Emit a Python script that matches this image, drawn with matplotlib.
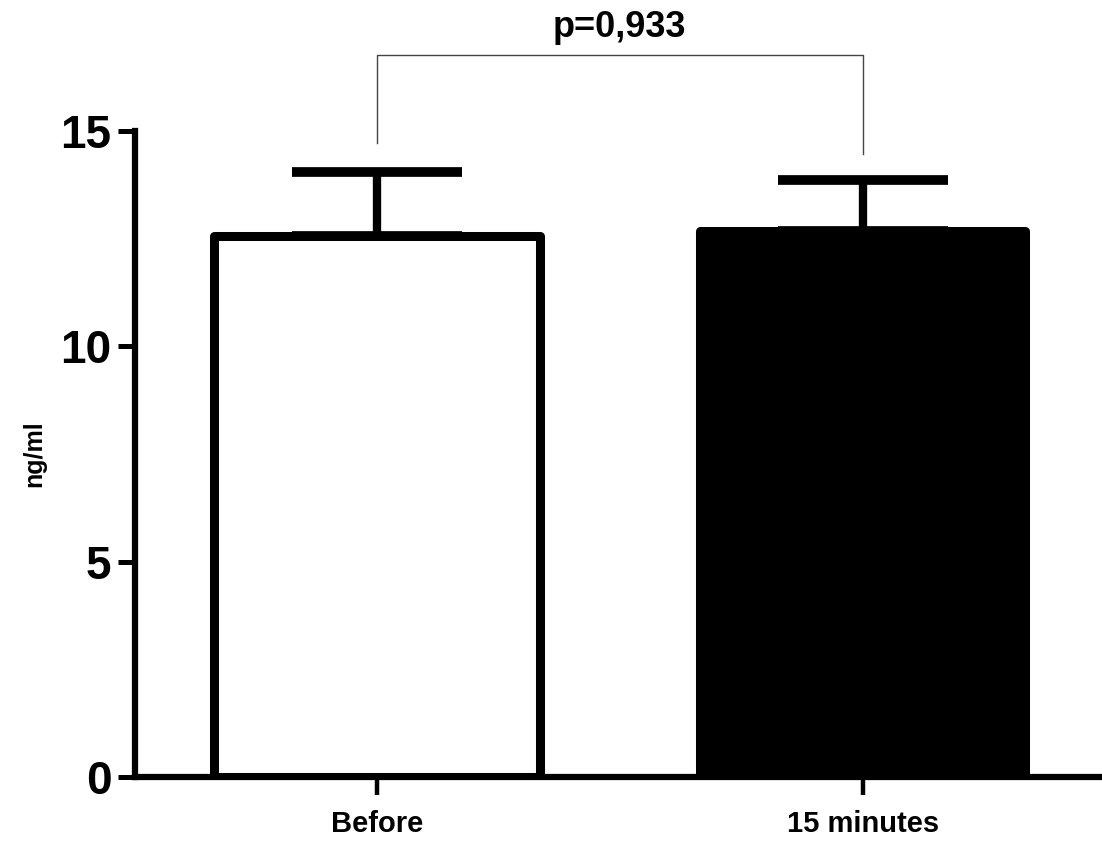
import numpy as np
import matplotlib
matplotlib.use("Agg")
import matplotlib.pyplot as plt

plt.rcParams['font.family'] = ['Liberation Sans', 'DejaVu Sans']
plt.rcParams['font.weight'] = 'bold'

groups = ['Before', '15 minutes']
means = [12.56, 12.68]
sem = [1.49, 1.19]
colors = ['white', 'black']
p_text = 'p=0,933'
bracket_left = 14.72
bracket_right = 14.46
bracket_top = 16.76

fig = plt.figure(figsize=(11.02, 8.44), dpi=100)
ax = fig.add_axes([0.1225, 0.0794, 0.8755, 0.7654])

x = np.arange(len(groups))
eb = ax.errorbar(x, means, yerr=[np.zeros(len(means)), sem], fmt='none', ecolor='black',
                 elinewidth=6, capsize=61, capthick=7, zorder=1)
for cap in eb[1]:
    cap.set_solid_capstyle('round')
bars = ax.bar(x, means, width=0.67, color=colors, edgecolor='black', linewidth=6.5, zorder=2)
for b in bars:
    b.set_joinstyle('round')

# significance bracket
ax.plot([x[0], x[0], x[1], x[1]], [bracket_left, bracket_top, bracket_top, bracket_right],
        color='#444444', lw=1, clip_on=False)
ax.text((x[0] + x[1]) / 2, 17.4, p_text, ha='center', va='center', fontsize=26,
        fontweight='bold', clip_on=False)

ax.set_xlim(-0.498, 1.488)
ax.set_ylim(0, 15)
ax.set_yticks([0, 5, 10, 15])
ax.set_xticks(x)
ax.set_xticklabels(groups, fontsize=21, fontweight='bold')
ax.tick_params(axis='y', labelsize=33, length=12, width=3.6, pad=5)
ax.tick_params(axis='x', length=13, width=3.2, pad=11)
for lbl in ax.get_yticklabels():
    lbl.set_fontweight('bold')
ax.set_ylabel('ng/ml', fontsize=18, fontweight='bold', labelpad=10)

for s in ['top', 'right']:
    ax.spines[s].set_visible(False)
for s in ['left', 'bottom']:
    ax.spines[s].set_linewidth(4.5)

fig.savefig('out.png', dpi=100)
